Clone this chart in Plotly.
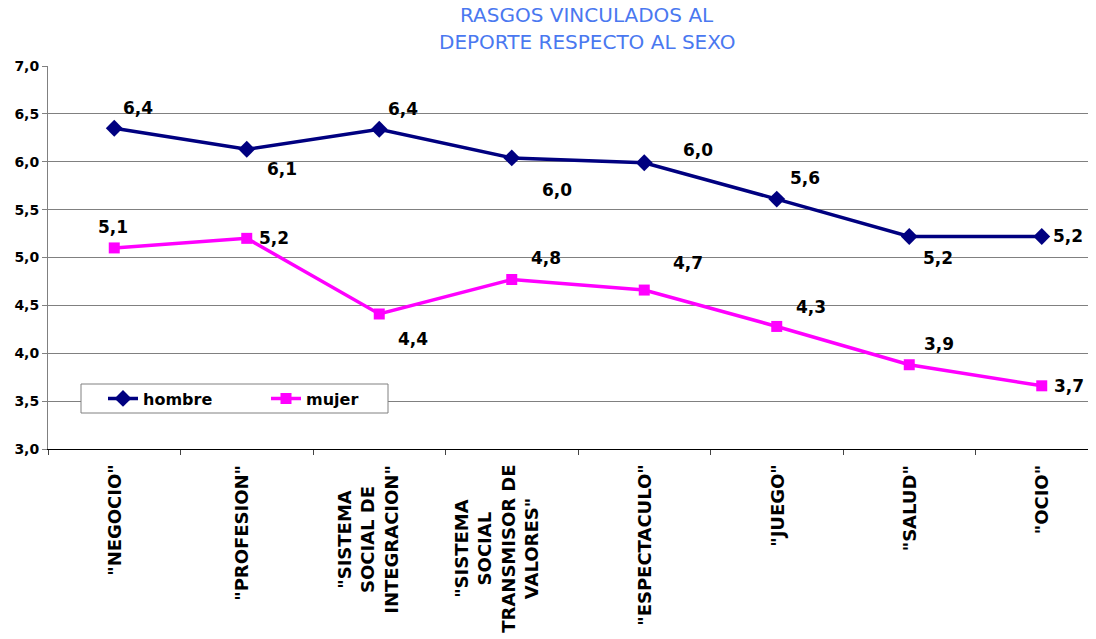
import plotly.graph_objects as go

categories = ['"NEGOCIO"', '"PROFESION"', '"SISTEMA<br>SOCIAL DE<br>INTEGRACION"',
              '"SISTEMA<br>SOCIAL<br>TRANSMISOR DE<br>VALORES"', '"ESPECTACULO"',
              '"JUEGO"', '"SALUD"', '"OCIO"']
hombre = [6.35, 6.13, 6.34, 6.04, 5.99, 5.61, 5.22, 5.22]
mujer = [5.10, 5.20, 4.41, 4.77, 4.66, 4.28, 3.88, 3.66]
hombre_labels = ["6,4", "6,1", "6,4", "6,0", "6,0", "5,6", "5,2", "5,2"]
mujer_labels = ["5,1", "5,2", "4,4", "4,8", "4,7", "4,3", "3,9", "3,7"]
title_lines = ["RASGOS VINCULADOS AL", "DEPORTE RESPECTO AL SEXO"]

# label offsets in pixels (dx, dy with dy positive = up)
hombre_off = [(24, 20), (35, -20), (24, 20), (45, -32), (54, 13), (28, 21), (29, -22), (26, 0)]
mujer_off = [(-1, 21), (27, 0), (34, -25), (34, 22), (44, 27), (34, 19), (30, 21), (27, 0)]
cat_shift = [0, -6, -12, -16, 0, 0, 0, 0]

FONT = "DejaVu Sans, Arial"
# the page body has an 8px margin, so lay the figure out 8px up/left
OFF = 8
W, H = 1096, 639
L, T = 48 - OFF, 66 - OFF
B = H - (449 - OFF)
PW, PH = W - L, H - T - B


def px_x(p):
    # p: x pixel in the screenshot
    return (p - OFF - L) / PW


def px_y(p):
    return (H - B - (p - OFF)) / PH


fig = go.Figure()
fig.add_trace(go.Scatter(
    x=categories, y=hombre, name="hombre", mode="lines+markers",
    line=dict(color="#000080", width=3.5),
    marker=dict(symbol="diamond", size=13, color="#000080"),
))
fig.add_trace(go.Scatter(
    x=categories, y=mujer, name="mujer", mode="lines+markers",
    line=dict(color="#FF00FF", width=3.5),
    marker=dict(symbol="square", size=11, color="#FF00FF"),
))

annotations = []
for vals, labels, offs in [(hombre, hombre_labels, hombre_off), (mujer, mujer_labels, mujer_off)]:
    for c, v, t, (dx, dy) in zip(categories, vals, labels, offs):
        annotations.append(dict(
            x=c, y=v, text=t, showarrow=False, xshift=dx, yshift=dy,
            font=dict(family=FONT, size=17, color="black", weight="bold"),
        ))

# category labels, rotated and centred like the original
for c, dx in zip(categories, cat_shift):
    annotations.append(dict(
        x=c, y=0, yref="paper", text=c, showarrow=False, textangle=-90,
        yanchor="top", xanchor="center", align="center", yshift=-14, xshift=dx,
        font=dict(family=FONT, size=18, color="black", weight="bold"),
    ))

# two-line title
for line, ypx in zip(title_lines, [15, 42]):
    annotations.append(dict(
        x=px_x(587), y=px_y(ypx), xref="paper", yref="paper", text=line,
        showarrow=False, xanchor="center", yanchor="middle",
        font=dict(family=FONT, size=20, color="#4a78f0"),
    ))

fig.update_layout(
    width=W, height=H,
    margin=dict(l=L, r=0, t=T, b=B, autoexpand=False),
    paper_bgcolor="white", plot_bgcolor="white",
    separators=",.",
    xaxis=dict(
        type="category", range=[-0.5, -0.5 + PW / 132.5], showticklabels=False,
        showgrid=False, showline=True, linecolor="black", linewidth=1,
        ticks="outside", tickson="boundaries", ticklen=5, tickcolor="#444",
        automargin=False,
    ),
    yaxis=dict(
        range=[3, 7], dtick=0.5, tickformat=".1f",
        showgrid=True, gridcolor="#808080", gridwidth=1,
        showline=True, linecolor="#808080", linewidth=1,
        ticks="outside", ticklen=5, tickcolor="#808080",
        tickfont=dict(family=FONT, size=14, color="black", weight="bold"),
        zeroline=False, automargin=False,
    ),
    legend=dict(
        orientation="h", x=px_x(103), y=px_y(398.5), xanchor="left", yanchor="middle",
        borderwidth=0, bgcolor="rgba(0,0,0,0)",
        font=dict(family=FONT, size=16, color="black", weight="bold"),
        entrywidth=118, entrywidthmode="pixels",
    ),
    shapes=[dict(
        type="rect", xref="paper", yref="paper", layer="above",
        x0=px_x(81), x1=px_x(388), y0=px_y(413), y1=px_y(384),
        line=dict(color="#808080", width=1), fillcolor="white",
    )],
    annotations=annotations,
    showlegend=True,
)

fig.write_html("out.html")
